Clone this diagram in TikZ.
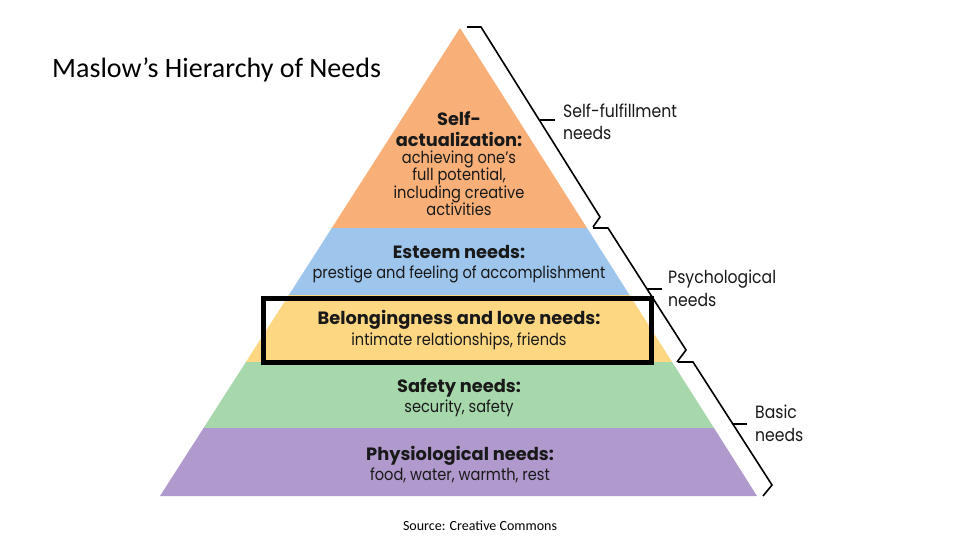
\documentclass[tikz,border=0pt]{standalone}
\usepackage{fontspec}
\setmainfont{Carlito}
\newfontfamily\pyr[FakeStretch=0.88]{Poppins}
\newfontfamily\pyrb{Poppins}
\definecolor{orangeL}{RGB}{249,176,120}
\definecolor{blueL}{RGB}{158,197,236}
\definecolor{yellowL}{RGB}{253,215,130}
\definecolor{greenL}{RGB}{167,216,172}
\definecolor{purpleL}{RGB}{176,153,205}
\definecolor{ink}{RGB}{25,25,25}
\tikzset{
  hd/.style={anchor=base, inner sep=0pt, text=ink, font=\pyrb\bfseries\fontsize{17.8}{20}\selectfont},
  tx/.style={anchor=base, inner sep=0pt, text=ink, font=\pyr\fontsize{16.6}{18}\selectfont},
  side/.style={anchor=base west, inner sep=0pt, text=ink, font=\pyr\fontsize{17.8}{20}\selectfont},
  brace/.style={draw=black, line width=1.6pt, line join=miter},
}
\begin{document}
\begin{tikzpicture}[x=1pt,y=-1pt]
\useasboundingbox (0,0) rectangle (960,540);
\fill[white] (0,0) rectangle (960,540);
% layers
\fill[orangeL] (460,28) -- (587,228) -- (331.8,228) -- cycle;
\fill[blueL] (331.8,228) -- (587,228) -- (629.5,295) -- (288.9,295) -- cycle;
\fill[yellowL] (288.9,295) -- (629.5,295) -- (672.1,362) -- (245.9,362) -- cycle;
\fill[greenL] (245.9,362) -- (672.1,362) -- (714,428) -- (203.6,428) -- cycle;
\fill[purpleL] (203.6,428) -- (714,428) -- (757,496) -- (160,496) -- cycle;
% highlight box
\node[draw=black, line width=5pt, minimum width=388pt, minimum height=64pt, inner sep=0pt] (hl) at (457,330) {};
% texts
\node[hd] (s1) at (459,126) {Self-};
\node[hd] (s2) at (459,147) {actualization:};
\node[tx] (s3) at (459,164) {achieving one’s};
\node[tx] (s4) at (459,181) {full potential,};
\node[tx] (s5) at (459,198) {including creative};
\node[tx] (s6) at (459,215) {activities};
\node[hd] (e1) at (459,258) {Esteem needs:};
\node[tx] (e2) at (459,278) {prestige and feeling of accomplishment};
\node[hd] (b1) at (459,324) {Belongingness and love needs:};
\node[tx] (b2) at (459,345) {intimate relationships, friends};
\node[hd] (f1) at (459,392) {Safety needs:};
\node[tx] (f2) at (459,412) {security, safety};
\node[hd] (p1) at (460,460) {Physiological needs:};
\node[tx] (p2) at (460,480) {food, water, warmth, rest};
% braces
\draw[brace] (467,27) -- (481,27) -- (600,217) -- (593,227);
\draw[brace] (593,228) -- (608,228) -- (686,350) -- (677,362);
\draw[brace] (678,362) -- (693,362) -- (772,485) -- (763,496);
\coordinate (t1) at (539.5,120);
\coordinate (t2) at (647,289);
\coordinate (t3) at (733,424);
\node[side] (l1) at (563,118) {Self-fulfillment};
\node[side] (l1b) at (563,140) {needs};
\node[side] (l2) at (668,283) {Psychological};
\node[side] (l2b) at (668,306) {needs};
\node[side] (l3) at (755,418) {Basic};
\node[side] (l3b) at (755,441) {needs};
\draw[brace] (t1) -- (555,120);
\draw[brace] (t2) -- (662,289);
\draw[brace] (t3) -- (747,424);
% title and source
\node[anchor=base west, inner sep=0pt, font=\fontsize{28}{32}\selectfont] (title) at (52,78) {Maslow’s Hierarchy of Needs};
\node[anchor=base, inner sep=0pt, font=\fontsize{14}{16}\selectfont] (src) at (480,530) {Source: Creative Commons};
\end{tikzpicture}
\end{document}
